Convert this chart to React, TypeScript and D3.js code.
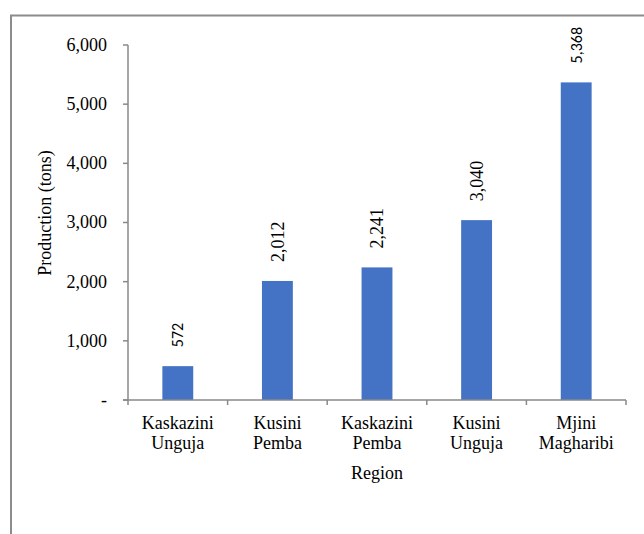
import { useRef, useEffect } from 'react';
import * as d3 from 'd3';

const regions = [
  ['Kaskazini', 'Unguja'],
  ['Kusini', 'Pemba'],
  ['Kaskazini', 'Pemba'],
  ['Kusini', 'Unguja'],
  ['Mjini', 'Magharibi'],
];
const production = [572, 2012, 2241, 3040, 5368];
const yTicks = [0, 1000, 2000, 3000, 4000, 5000, 6000];
// value labels that came out in a sans font in the source
const sansLabels = [0, 4];

const width = 644;
const height = 534;
const margin = { top: 45, right: 18, bottom: 134, left: 128 };
const serif = "'Liberation Serif', Tinos, 'Times New Roman', 'DejaVu Serif', serif";
const sans = "Carlito, 'Liberation Sans', Arial, sans-serif";
const axisColor = '#898989';

export default function App() {
  const svgRef = useRef<SVGSVGElement>(null);

  useEffect(() => {
    if (!svgRef.current) return;
    const svg = d3.select(svgRef.current);
    svg.selectAll('*').remove();

    const x0 = margin.left;
    const x1 = width - margin.right;
    const y0 = height - margin.bottom;
    const y1 = margin.top;

    const x = d3
      .scaleBand<number>()
      .domain(d3.range(production.length))
      .range([x0, x1])
      .paddingInner(0.69)
      .paddingOuter(0.345);
    const y = d3.scaleLinear().domain([0, 6000]).range([y0, y1]);
    const fmt = d3.format(',');

    // outer chart frame (runs off the right and bottom edges)
    svg
      .append('rect')
      .attr('x', 11)
      .attr('y', 15.5)
      .attr('width', width + 20)
      .attr('height', height + 20)
      .attr('fill', 'none')
      .attr('stroke', '#8c8c8c')
      .attr('stroke-width', 2);

    // bars
    svg
      .append('g')
      .selectAll('rect')
      .data(production)
      .enter()
      .append('rect')
      .attr('x', (_, i) => x(i)!)
      .attr('y', (d) => y(d))
      .attr('width', x.bandwidth())
      .attr('height', (d) => y0 - y(d))
      .attr('fill', '#4472C4');

    // value labels, rotated
    svg
      .append('g')
      .selectAll('text')
      .data(production)
      .enter()
      .append('text')
      .attr('transform', (d, i) => {
        const cx = x(i)! + x.bandwidth() / 2;
        return `translate(${cx},${y(d) - 19}) rotate(-90)`;
      })
      .attr('dy', '0.35em')
      .attr('text-anchor', 'start')
      .style('font-family', (_, i) => (sansLabels.includes(i) ? sans : serif))
      .style('font-size', (_, i) => (sansLabels.includes(i) ? '16px' : '18px'))
      .attr('fill', '#000')
      .text((d) => fmt(d));

    // y axis
    const yAxis = svg.append('g');
    yAxis
      .append('line')
      .attr('x1', x0)
      .attr('x2', x0)
      .attr('y1', y1)
      .attr('y2', y0)
      .attr('stroke', axisColor)
      .attr('stroke-width', 1.5);
    yAxis
      .selectAll('.tick')
      .data(yTicks)
      .enter()
      .append('line')
      .attr('x1', x0 - 5)
      .attr('x2', x0)
      .attr('y1', (d) => y(d))
      .attr('y2', (d) => y(d))
      .attr('stroke', axisColor)
      .attr('stroke-width', 1.5);
    yAxis
      .selectAll('text')
      .data(yTicks)
      .enter()
      .append('text')
      .attr('x', (d) => (d === 0 ? 107 : x0 - 21))
      .attr('y', (d) => y(d))
      .attr('dy', '0.33em')
      .attr('text-anchor', 'end')
      .style('font-family', serif)
      .style('font-size', '18px')
      .text((d) => (d === 0 ? '-' : fmt(d)));

    // x axis
    const xAxis = svg.append('g');
    xAxis
      .append('line')
      .attr('x1', x0 - 5)
      .attr('x2', x1)
      .attr('y1', y0)
      .attr('y2', y0)
      .attr('stroke', axisColor)
      .attr('stroke-width', 1.5);
    xAxis
      .selectAll('line.tick')
      .data(d3.range(production.length + 1))
      .enter()
      .append('line')
      .attr('x1', (i) => x0 + i * x.step())
      .attr('x2', (i) => x0 + i * x.step())
      .attr('y1', y0)
      .attr('y2', y0 + 5)
      .attr('stroke', axisColor)
      .attr('stroke-width', 1.5);
    const cat = xAxis
      .selectAll('text')
      .data(regions)
      .enter()
      .append('text')
      .attr('text-anchor', 'middle')
      .style('font-family', serif)
      .style('font-size', '18px');
    cat
      .append('tspan')
      .attr('x', (_, i) => x(i)! + x.bandwidth() / 2)
      .attr('y', y0 + 29)
      .text((d) => d[0]);
    cat
      .append('tspan')
      .attr('x', (_, i) => x(i)! + x.bandwidth() / 2)
      .attr('y', y0 + 49)
      .text((d) => d[1]);

    // axis titles
    svg
      .append('text')
      .attr('x', (x0 + x1) / 2)
      .attr('y', 479)
      .attr('text-anchor', 'middle')
      .style('font-family', serif)
      .style('font-size', '18px')
      .text('Region');
    svg
      .append('text')
      .attr('transform', `translate(45,213) rotate(-90)`)
      .attr('dy', '0.35em')
      .attr('text-anchor', 'middle')
      .style('font-family', serif)
      .style('font-size', '18px')
      .text('Production (tons)');
  }, []);

  return (
    <div style={{ position: 'fixed', left: 0, top: 0, background: '#fff' }}>
      <svg ref={svgRef} width={width} height={height} viewBox={`0 0 ${width} ${height}`} />
    </div>
  );
}
